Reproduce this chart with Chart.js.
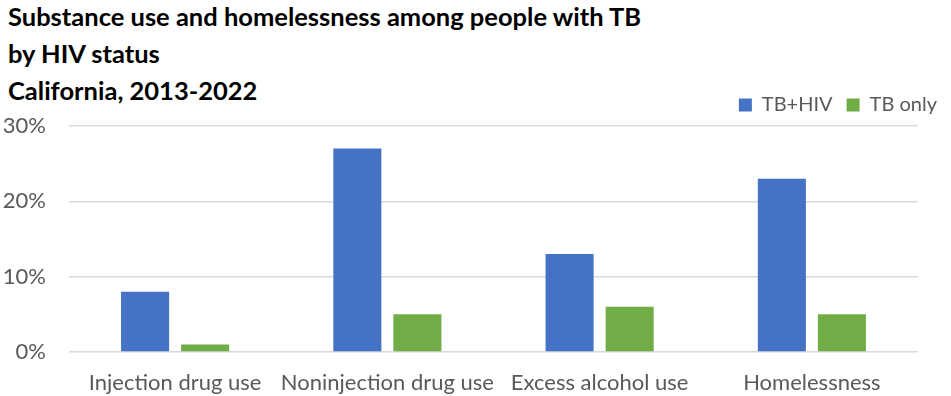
<!DOCTYPE html>
<html>
<head>
<meta charset="utf-8">
<script src="https://cdn.jsdelivr.net/npm/chart.js@4.4.1/dist/chart.umd.min.js"></script>
<style>
  html, body { margin: 0; padding: 0; background: #fff; }
  #wrap { position: relative; width: 951px; height: 396px; }
  #title {
    position: absolute; left: 8px; top: -2px;
    font-family: Lato, sans-serif; font-weight: bold; font-size: 25.5px;
    line-height: 37px; color: #000; white-space: nowrap;
  }
  canvas { position: absolute; left: 0; top: 0; }
</style>
</head>
<body>
<div id="wrap">
  <div id="title">Substance use and homelessness among people with TB<br>by HIV status<br>California, 2013-2022</div>
  <canvas id="chart" width="951" height="396"></canvas>
</div>
<script>
// chart data
const categories = ["Injection drug use", "Noninjection drug use", "Excess alcohol use", "Homelessness"];
const tbHiv = [8, 27, 13, 23];
const tbOnly = [1, 5, 6, 5];
const yTicks = [0, 10, 20, 30];

const grey = "#595959";

// legend is taller than it needs to be with the wide item padding, so trim it
const legendHeight = {
    id: "legendHeight",
    beforeInit(chart) {
        const origFit = chart.legend.fit;
        chart.legend.fit = function () {
            origFit.call(this);
            this.height = 45;
        };
    }
};

const ctx = document.getElementById("chart").getContext("2d");
const myChart = new Chart(ctx, {
    type: "bar",
    data: {
        labels: categories,
        datasets: [{
                label: "TB+HIV",
                data: tbHiv,
                backgroundColor: "#4472C4"
            },
            {
                label: "TB only",
                data: tbOnly,
                backgroundColor: "#70AD47"
            }
        ]
    },
    plugins: [legendHeight],
    options: {
        responsive: false,
        animation: false,
        categoryPercentage: 0.566,
        barPercentage: 0.8,
        layout: {
            autoPadding: false,
            padding: { top: 81, left: 0, right: 0, bottom: 0 }
        },
        plugins: {
            title: { display: false },
            tooltip: { enabled: false },
            legend: {
                position: "top",
                align: "end",
                labels: {
                    boxWidth: 13,
                    boxHeight: 13,
                    padding: 14,
                    color: grey,
                    font: { family: "Lato", size: 20 }
                }
            }
        },
        scales: {
            x: {
                grid: { display: false, drawTicks: false },
                border: { display: false },
                ticks: {
                    color: grey,
                    padding: 18,
                    maxRotation: 0,
                    minRotation: 0,
                    autoSkip: false,
                    font: { family: "Lato", size: 22 }
                },
                // chart.js reserves the tick padding twice, keep the axis tight
                afterFit: (scale) => { scale.height = 44; }
            },
            y: {
                min: yTicks[0],
                max: yTicks[yTicks.length - 1],
                afterBuildTicks: (scale) => {
                    scale.ticks = yTicks.map(v => ({ value: v }));
                },
                grid: { color: "#d9d9d9", lineWidth: 1.5, drawTicks: false },
                border: { display: false },
                ticks: {
                    color: grey,
                    padding: 23,
                    font: { family: "Lato", size: 22 },
                    callback: (v) => v + "%"
                },
                afterFit: (scale) => { scale.width = 69; }
            },
            // empty right axis, only to leave room so the legend can reach past the plot
            yR: {
                position: "right",
                grid: { display: false, drawTicks: false },
                border: { display: false },
                ticks: { display: false },
                afterFit: (scale) => { scale.width = 33; }
            }
        }
    }
});
</script>
</body>
</html>
